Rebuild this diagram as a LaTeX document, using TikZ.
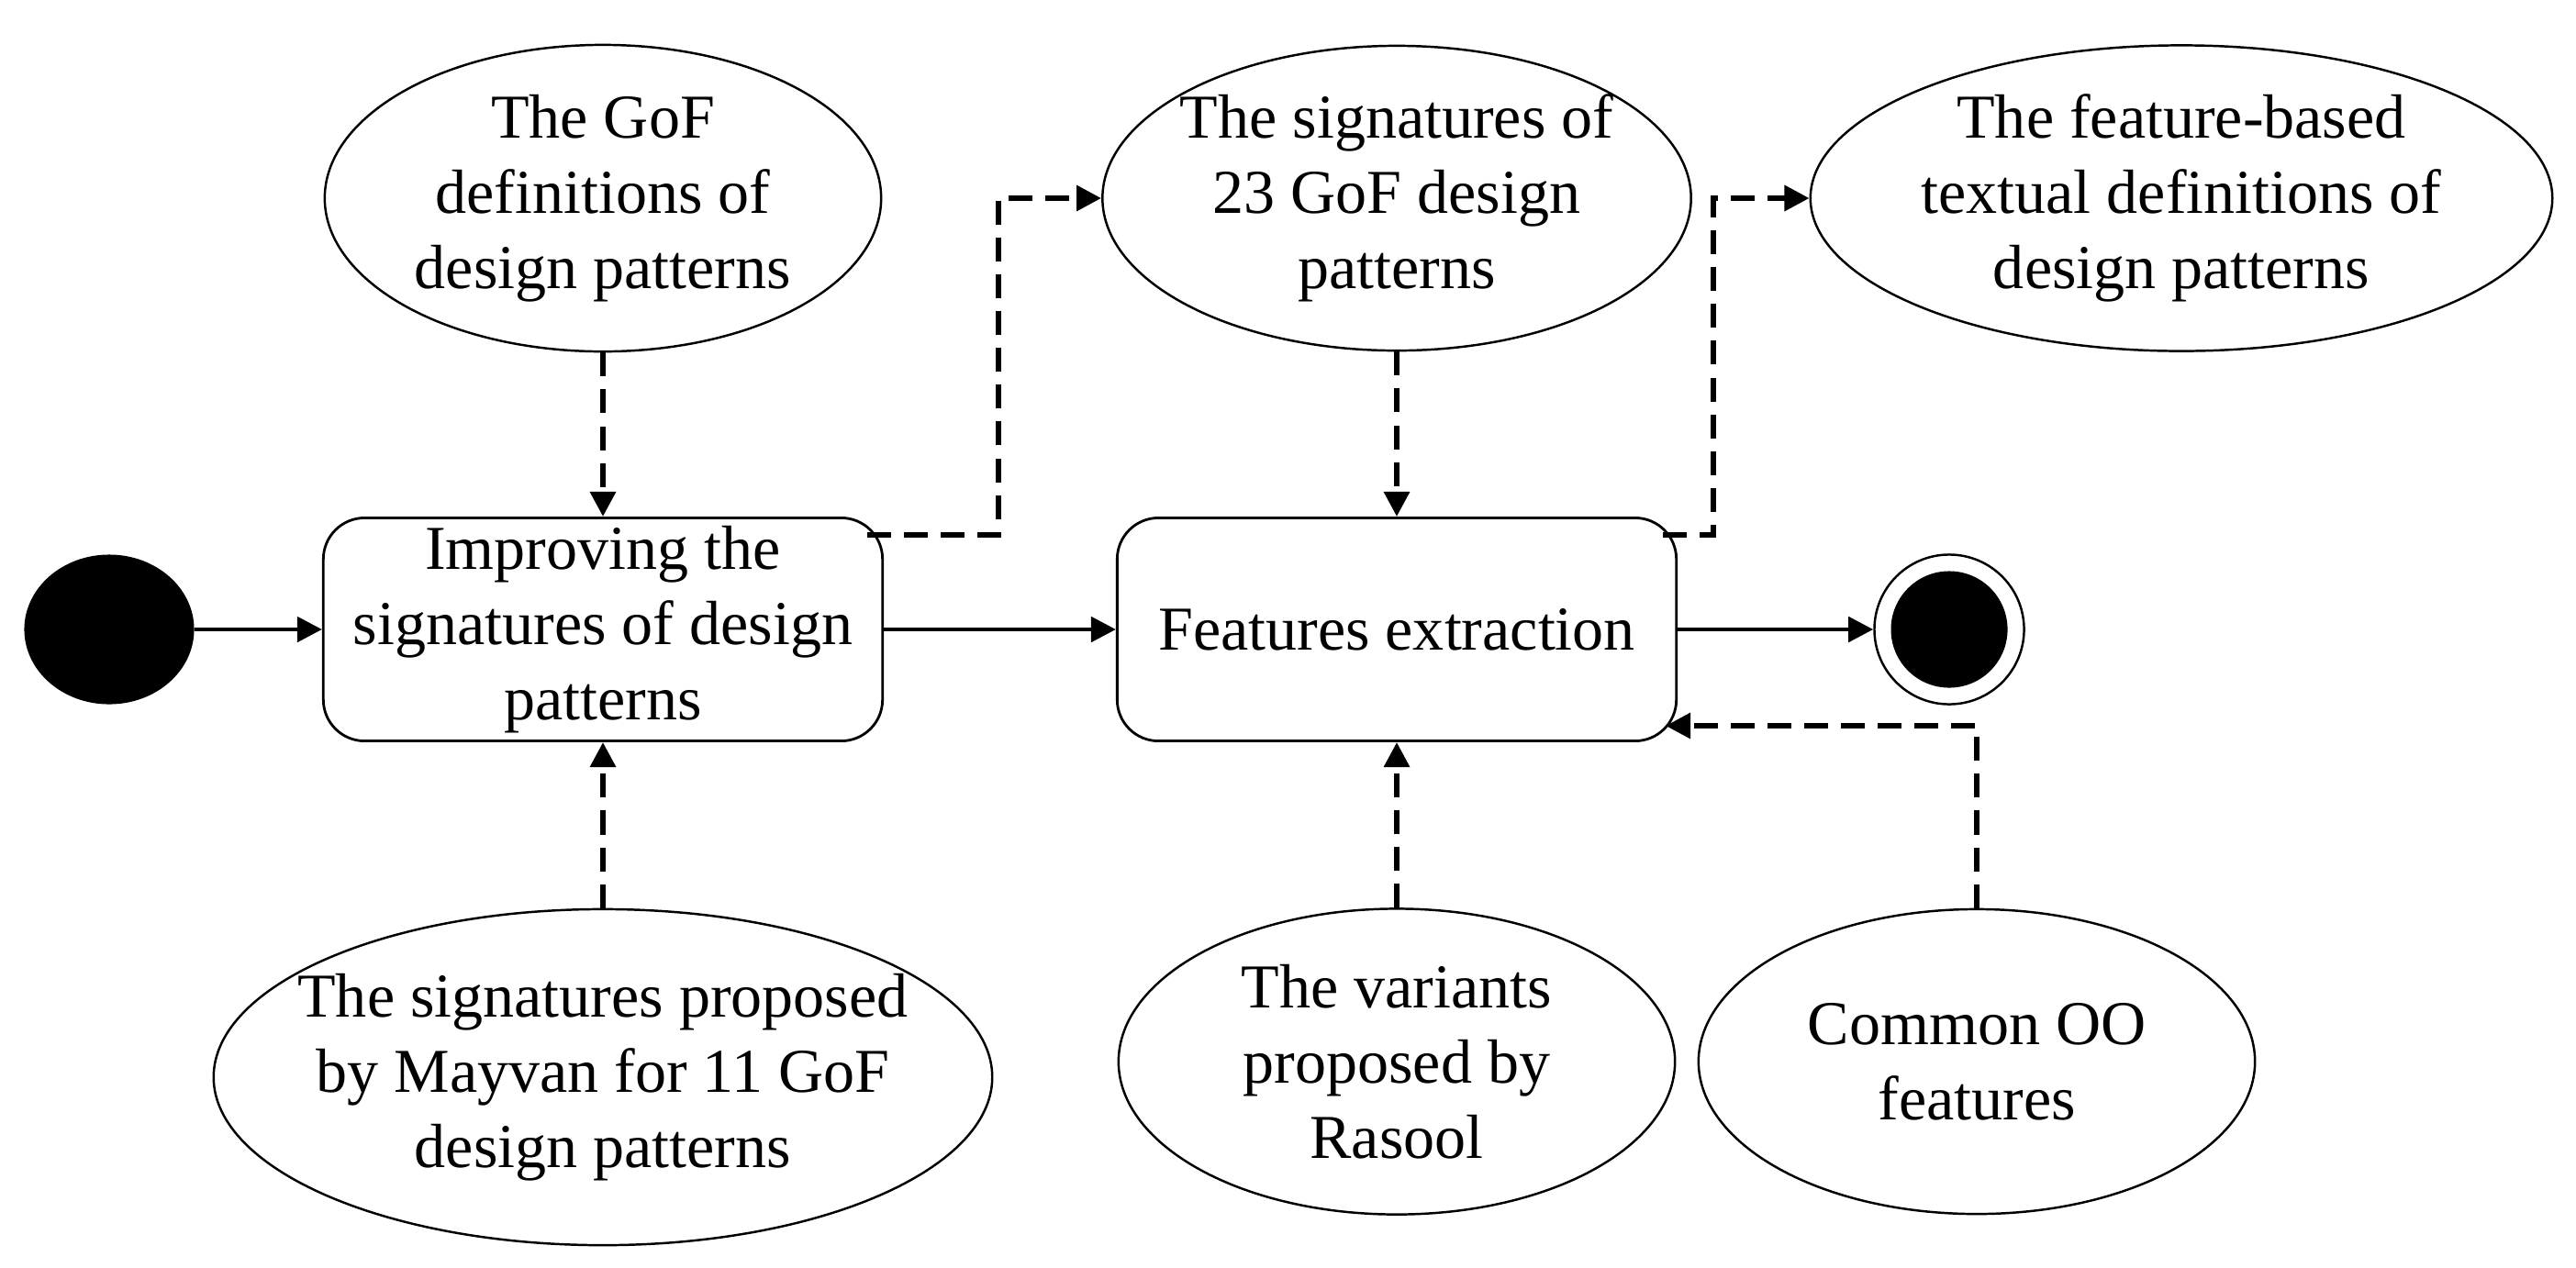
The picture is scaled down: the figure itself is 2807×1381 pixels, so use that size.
\documentclass[tikz,border=0pt]{standalone}
\usepackage{fontspec}
\setmainfont{Liberation Serif}
\usetikzlibrary{arrows.meta,shapes.geometric}
\begin{document}
\begin{tikzpicture}[x=0.01cm,y=-0.01cm,
  oval/.style={ellipse,draw,line width=0.7pt,inner sep=0pt},
  txt/.style={align=center,font=\fontsize{19.35}{23.3}\selectfont,inner sep=0pt},
  act/.style={rectangle,rounded corners=0.45cm,draw,line width=0.8pt,minimum width=6.09cm,minimum height=2.43cm,inner sep=0pt,align=center,font=\fontsize{19.35}{23.3}\selectfont},
  flow/.style={-{Triangle[length=7.7pt,width=7.7pt]},line width=1.4pt},
  dep/.style={-{Triangle[length=7.7pt,width=7.7pt]},line width=1.7pt,dash pattern=on 7.4pt off 4pt},
]
\useasboundingbox[fill=white] (0,0) rectangle (2807,1381);

% initial and final states
\node (start) [ellipse,fill=black,minimum width=1.85cm,minimum height=1.63cm,inner sep=0pt] at (119,686) {};
\node (end) [circle,draw,line width=0.7pt,fill=white,minimum size=1.63cm,inner sep=0pt] at (2124,686) {};
\node (endin) [circle,fill=black,minimum size=1.27cm,inner sep=0pt] at (2124,686) {};

% activities
\node (b1) [act] at (657,686) {Improving the\\signatures of design\\patterns};
\node (b2) [act] at (1522,686) {Features extraction};

% inputs / outputs (ellipses)
\node (e1) [oval,minimum width=6.06cm,minimum height=3.34cm] at (657,216) {};
\node (e1t) [txt] at (e1) {The GoF\\definitions of\\design patterns};
\node (e2) [oval,minimum width=6.41cm,minimum height=3.32cm] at (1522,216) {};
\node (e2t) [txt] at (e2) {The signatures of\\23 GoF design\\patterns};
\node (e3) [oval,minimum width=8.08cm,minimum height=3.33cm] at (2377,216) {};
\node (e3t) [txt] at (e3) {The feature-based\\textual definitions of\\design patterns};
\node (e4) [oval,minimum width=8.48cm,minimum height=3.66cm] at (657,1174) {};
\node (e4t) [txt] at (e4) {The signatures proposed\\by Mayvan for 11 GoF\\design patterns};
\node (e5) [oval,minimum width=6.06cm,minimum height=3.33cm] at (1522,1157) {};
\node (e5t) [txt] at (e5) {The variants\\proposed by\\Rasool};
\node (e6) [oval,minimum width=6.06cm,minimum height=3.32cm] at (2154,1157) {};
\node (e6t) [txt] at (e6) {Common OO\\features};

% connector anchor points on rounded corners
\coordinate (b1c) at (945,583);
\coordinate (b2c) at (1812,583);
\coordinate (b2in) at (1815,791);

% control flow
\draw[flow] (start) -- (b1);
\draw[flow] (b1) -- (b2);
\draw[flow] (b2) -- (end);

% object flows
\draw[dep] (e1) -- (b1);
\draw[dep] (e4) -- (b1);
\draw[dep] (e2) -- (b2);
\draw[dep] (e5) -- (b2);
\draw[dep] (e6.north) |- (b2in);
\draw[dep] (b1c) -- ++(143,0) |- (e2.west);
\draw[dep] (b2c) -- ++(55,0) |- (e3.west);
\end{tikzpicture}
\end{document}
